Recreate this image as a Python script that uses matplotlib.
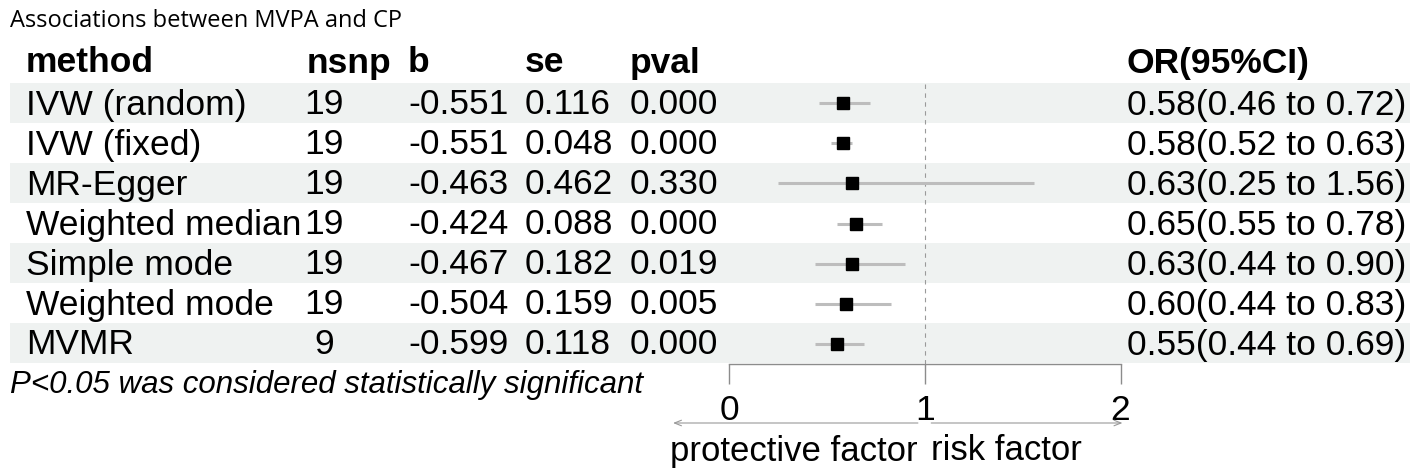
import matplotlib
matplotlib.use("Agg")
import matplotlib.pyplot as plt

title = "Associations between MVPA and CP"
headers = ["method", "nsnp", "b", "se", "pval", "OR(95%CI)"]
methods = ["IVW (random)", "IVW (fixed)", "MR-Egger", "Weighted median",
           "Simple mode", "Weighted mode", "MVMR"]
nsnp = ["19", "19", "19", "19", "19", "19", "9"]
b = ["-0.551", "-0.551", "-0.463", "-0.424", "-0.467", "-0.504", "-0.599"]
se = ["0.116", "0.048", "0.462", "0.088", "0.182", "0.159", "0.118"]
pval = ["0.000", "0.000", "0.330", "0.000", "0.019", "0.005", "0.000"]
or_est = [0.58, 0.58, 0.63, 0.65, 0.63, 0.60, 0.55]
or_lo = [0.46, 0.52, 0.25, 0.55, 0.44, 0.44, 0.44]
or_hi = [0.72, 0.63, 1.56, 0.78, 0.90, 0.83, 0.69]
xticks = [0, 1, 2]
footnote = "P<0.05 was considered statistically significant"

W, H = 1418, 476
fig = plt.figure(figsize=(W / 100, H / 100), dpi=100)
FONT = "Liberation Sans"
FS = 25.5

bg = fig.add_axes([0, 0, 1, 1])
bg.set_xlim(0, W)
bg.set_ylim(H, 0)
bg.axis("off")

row_top = 83
row_h = 40
header_y = 63
n = len(methods)
dy = 2  # text offset within row

# alternating shading
for i in range(n):
    if i % 2 == 0:
        bg.fill_between([10, 1410], row_top + i * row_h, row_top + (i + 1) * row_h,
                        color="#eff2f1", lw=0, zorder=0)

bg.text(10, 21, title, fontfamily="Open Sans", fontsize=17, va="center", ha="left")

col_x = [26, 307, 408, 525, 630, 1127]
for x, h in zip(col_x, headers):
    bg.text(x, header_y, h, fontfamily=FONT, fontweight="bold", fontsize=FS,
            va="center", ha="left")

for i in range(n):
    y = row_top + (i + 0.5) * row_h + dy
    or_txt = f"{or_est[i]:.2f}({or_lo[i]:.2f} to {or_hi[i]:.2f})"
    bg.text(col_x[0], y, methods[i], fontfamily=FONT, fontsize=FS, va="center", ha="left")
    bg.text(324, y, nsnp[i], fontfamily=FONT, fontsize=FS, va="center", ha="center")
    bg.text(col_x[2], y, b[i], fontfamily=FONT, fontsize=FS, va="center", ha="left")
    bg.text(col_x[3], y, se[i], fontfamily=FONT, fontsize=FS, va="center", ha="left")
    bg.text(col_x[4], y, pval[i], fontfamily=FONT, fontsize=FS, va="center", ha="left")
    bg.text(col_x[5], y, or_txt, fontfamily=FONT, fontsize=FS, va="center", ha="left")

bg.text(10, 385, footnote, fontfamily=FONT, fontstyle="italic", fontsize=22.5,
        va="center", ha="left")

# forest axes
x0, x2 = 729, 1120.5
ytop, ybot = 83, 364
ax = fig.add_axes([x0 / W, (H - ybot) / H, (x2 - x0) / W, (ybot - ytop) / H])
ax.patch.set_alpha(0)
ax.set_xlim(0, 2)
ax.set_ylim(n - 0.5, -0.5)
for s in ["top", "right", "left"]:
    ax.spines[s].set_visible(False)
ax.spines["bottom"].set_color("#8c8c8c")
ax.spines["bottom"].set_linewidth(1.0)
ax.set_yticks([])
ax.set_xticks(xticks)
ax.set_xticklabels([str(t) for t in xticks], fontfamily=FONT, fontsize=FS)
ax.tick_params(axis="x", direction="out", length=14.4, width=1.0, color="#8c8c8c", pad=7)

ax.axvline(1, color="#9a9a9a", lw=0.8, ls=(0, (4, 4)), zorder=1)
ypos = list(range(n))
ax.hlines(ypos, or_lo, or_hi, color="#bdbdbd", lw=2.2, zorder=2)
ax.plot(or_est, ypos, ls="none", marker="s", ms=8, color="black", zorder=3)

tr = ax.get_xaxis_transform()
ay = (ybot - 423) / (ybot - ytop)
ly = (ybot - 451) / (ybot - ytop)
ap = dict(arrowstyle="->,head_length=0.5,head_width=0.2", color="#9a9a9a", lw=0.8,
          shrinkA=0, shrinkB=0)
ax.annotate("", xy=(-0.286, ay), xytext=(0.965, ay), xycoords=tr, textcoords=tr,
            arrowprops=ap, annotation_clip=False)
ax.annotate("", xy=(2.01, ay), xytext=(1.033, ay), xycoords=tr, textcoords=tr,
            arrowprops=ap, annotation_clip=False)
ax.text(0.965, ly, "protective factor", transform=tr, fontfamily=FONT, fontsize=FS - 0.5,
        ha="right", va="center", clip_on=False)
ax.text(1.033, ly, "risk factor", transform=tr, fontfamily=FONT, fontsize=FS - 0.5,
        ha="left", va="center", clip_on=False)

fig.savefig("out.png", dpi=100)
